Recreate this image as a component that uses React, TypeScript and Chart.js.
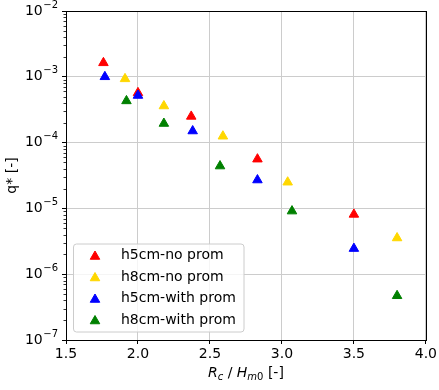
import React, { useEffect, useRef } from 'react';
import { Chart, registerables } from 'chart.js';
Chart.register(...registerables);

const seriesLabels = ['h5cm-no prom', 'h8cm-no prom', 'h5cm-with prom', 'h8cm-with prom'];
const seriesColors = ['#ff0000', '#ffd700', '#0000ff', '#008000'];

const h5NoPromX = [1.76, 2.0, 2.37, 2.83, 3.5];
const h5NoPromY = [1.63e-3, 5.7e-4, 2.5e-4, 5.6e-5, 8.1e-6];
const h8NoPromX = [1.91, 2.18, 2.59, 3.04, 3.8];
const h8NoPromY = [9.3e-4, 3.6e-4, 1.25e-4, 2.5e-5, 3.55e-6];
const h5WithPromX = [1.77, 2.0, 2.38, 2.83, 3.5];
const h5WithPromY = [1.0e-3, 5.2e-4, 1.5e-4, 2.7e-5, 2.45e-6];
const h8WithPromX = [1.92, 2.18, 2.57, 3.07, 3.8];
const h8WithPromY = [4.3e-4, 1.95e-4, 4.4e-5, 9.1e-6, 4.7e-7];

const xTicks = [1.5, 2.0, 2.5, 3.0, 3.5, 4.0];
const yTickExponents = [-2, -3, -4, -5, -6, -7];
const yTitle = 'q* [-]';

const FONT = 'DejaVu Sans';
const R = 5.5;

function triangle(ctx: CanvasRenderingContext2D, x: number, y: number, r: number, color: string) {
  ctx.beginPath();
  let rad = 0;
  for (let i = 0; i < 3; i++) {
    const px = x + Math.sin(rad) * r;
    const py = y - Math.cos(rad) * r;
    if (i === 0) ctx.moveTo(px, py); else ctx.lineTo(px, py);
    rad += (2 * Math.PI) / 3;
  }
  ctx.closePath();
  ctx.fillStyle = color;
  ctx.strokeStyle = color;
  ctx.lineWidth = 1;
  ctx.fill();
  ctx.stroke();
}

const decorPlugin = {
  id: 'decor',
  afterDraw(chart: any) {
    const ctx: CanvasRenderingContext2D = chart.ctx;
    const area = chart.chartArea;
    const ys = chart.scales.y;
    const xs = chart.scales.x;
    ctx.save();

    // minor ticks on y
    ctx.strokeStyle = '#000';
    ctx.lineWidth = 0.8;
    for (let e = -7; e < -2; e++) {
      for (let m = 2; m <= 9; m++) {
        const py = Math.round(ys.getPixelForValue(m * Math.pow(10, e))) + 0.5;
        ctx.beginPath();
        ctx.moveTo(area.left - 2.5, py);
        ctx.lineTo(area.left, py);
        ctx.stroke();
      }
    }

    // frame
    ctx.strokeStyle = '#000';
    ctx.lineWidth = 1;
    ctx.strokeRect(Math.round(area.left) + 0.5, Math.round(area.top) + 0.5,
      Math.round(area.right - area.left), Math.round(area.bottom - area.top));

    // y tick labels with superscripts
    ctx.fillStyle = '#000';
    ctx.textBaseline = 'middle';
    for (const e of yTickExponents) {
      const py = ys.getPixelForValue(parseFloat('1e' + e));
      const sup = '\u2212' + Math.abs(e);
      ctx.font = `10px ${FONT}`;
      const wSup = ctx.measureText(sup).width;
      ctx.font = `14px ${FONT}`;
      const wBase = ctx.measureText('10').width;
      const right = area.left - 8;
      ctx.textAlign = 'left';
      ctx.fillText('10', right - wSup - wBase - 0.5, py);
      ctx.font = `10px ${FONT}`;
      ctx.fillText(sup, right - wSup, py - 6);
    }

    // y title
    ctx.save();
    ctx.translate(12, (area.top + area.bottom) / 2);
    ctx.rotate(-Math.PI / 2);
    ctx.font = `14px ${FONT}`;
    ctx.textAlign = 'center';
    ctx.textBaseline = 'middle';
    ctx.fillText(yTitle, 0, 0);
    ctx.restore();

    // x title: R_c / H_m0 [-]
    const parts: [string, string, number][] = [
      ['R', `italic 14px ${FONT}`, 0],
      ['c', `italic 10px ${FONT}`, 3],
      [' / ', `14px ${FONT}`, 0],
      ['H', `italic 14px ${FONT}`, 0],
      ['m', `italic 10px ${FONT}`, 3],
      ['0', `10px ${FONT}`, 3],
      [' [-]', `14px ${FONT}`, 0],
    ];
    let total = 0;
    for (const [t, f] of parts) { ctx.font = f; total += ctx.measureText(t).width; }
    let cx = (area.left + area.right) / 2 - total / 2;
    const base = 377;
    ctx.textAlign = 'left';
    ctx.textBaseline = 'alphabetic';
    for (const [t, f, dy] of parts) {
      ctx.font = f;
      ctx.fillText(t, cx, base + dy);
      cx += ctx.measureText(t).width;
    }

    // legend
    const lx = 73.5, ly = 244, lw = 170.5, lh = 88;
    ctx.beginPath();
    ctx.roundRect(lx, ly, lw, lh, 3);
    ctx.fillStyle = 'rgba(255,255,255,0.8)';
    ctx.fill();
    ctx.strokeStyle = '#cccccc';
    ctx.lineWidth = 1;
    ctx.stroke();
    ctx.font = `14px ${FONT}`;
    ctx.textBaseline = 'middle';
    ctx.textAlign = 'left';
    chart.data.datasets.forEach((ds: any, i: number) => {
      const ry = 255.5 + i * 21.5;
      triangle(ctx, 95, ry + 1, R, ds.backgroundColor);
      ctx.fillStyle = '#000';
      ctx.fillText(ds.label, 121, ry);
    });

    ctx.restore();
  },
};

export default function App() {
  const ref = useRef<HTMLCanvasElement>(null);
  useEffect(() => {
    const xsArr = [h5NoPromX, h8NoPromX, h5WithPromX, h8WithPromX];
    const ysArr = [h5NoPromY, h8NoPromY, h5WithPromY, h8WithPromY];
    const datasets = seriesLabels.map((label, i) => ({
      label,
      data: xsArr[i].map((x, j) => ({ x, y: ysArr[i][j] })),
      backgroundColor: seriesColors[i],
      borderColor: seriesColors[i],
      borderWidth: 1,
      pointStyle: 'triangle',
      pointRadius: R,
      showLine: false,
      order: 3 - i,
    }));
    const chart = new Chart(ref.current!, {
      type: 'scatter',
      data: { datasets },
      options: {
        responsive: false,
        animation: false,
        layout: { padding: { top: 11, right: 12, left: 0, bottom: 0 } },
        plugins: { legend: { display: false }, tooltip: { enabled: false } },
        scales: {
          x: {
            type: 'linear',
            min: 1.5,
            max: 4.0,
            afterBuildTicks: (s: any) => { s.ticks = xTicks.map((v) => ({ value: v })); },
            ticks: {
              callback: (v: any) => Number(v).toFixed(1),
              font: { family: FONT, size: 14 },
              color: '#000',
              padding: 2,
              maxRotation: 0,
              autoSkip: false,
            },
            grid: { color: '#cccccc', tickColor: '#000', tickLength: 4, lineWidth: 1 },
            border: { display: false },
            afterFit: (s: any) => { s.height = 50; },
          },
          y: {
            type: 'logarithmic',
            min: 1e-7,
            max: 1e-2,
            afterBuildTicks: (s: any) => { s.ticks = yTickExponents.map((e) => ({ value: parseFloat('1e' + e) })); },
            ticks: { display: false },
            grid: { color: '#cccccc', tickColor: '#000', tickLength: 4, lineWidth: 1 },
            border: { display: false },
            afterFit: (s: any) => { s.width = 66; },
          },
        },
      },
      plugins: [decorPlugin],
    } as any);
    return () => chart.destroy();
  }, []);
  return (
    <div style={{ position: 'absolute', left: 0, top: 0, width: 439, height: 390, background: '#fff' }}>
      <canvas ref={ref} width={439} height={390} style={{ display: 'block' }} />
    </div>
  );
}
